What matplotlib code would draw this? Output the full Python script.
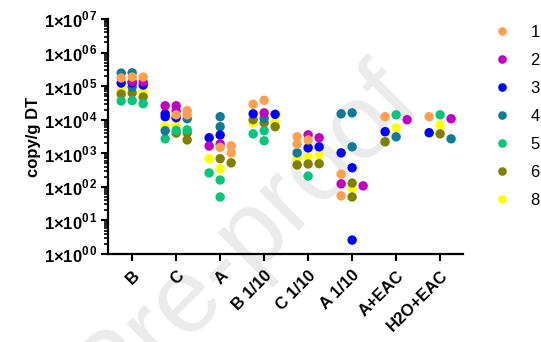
import numpy as np
import matplotlib
matplotlib.use("Agg")
import matplotlib.pyplot as plt
from matplotlib.lines import Line2D
from matplotlib.transforms import ScaledTranslation

plt.rcParams['font.family'] = ['Liberation Sans', 'DejaVu Sans']
plt.rcParams['mathtext.fontset'] = 'custom'
plt.rcParams['mathtext.rm'] = 'Liberation Sans:bold'
plt.rcParams['mathtext.bf'] = 'Liberation Sans:bold'

groups = ["B", "C", "A", "B 1/10", "C 1/10", "A 1/10", "A+EAC", "H2O+EAC"]
names = ["1", "2", "3", "4", "5", "6", "8"]
colors = ["#FFA050", "#C000C0", "#0000FF", "#117A96", "#0AC47E", "#808000", "#FFFF00"]

# values per group for each series (copy/g DT)
s1 = [[1.87e5, 1.87e5, 1.75e5], [1.4e4, 1.4e4, 1.86e4], [1.03e3, 1.67e3, 1.5e3],
      [3.8e4, 2.9e4], [3.1e3, 2.5e3, 1.9e3], [2.4e2, 54], [1.23e4], [1.23e4]]
s2 = [[1.38e5, 1.33e5], [2.6e4, 2.6e4, 1.8e4], [1.65e3, 1.9e3],
      [1.6e4], [3.55e3, 2.9e3], [1.07e2, 1.23e2], [1.0e4], [1.07e4]]
s3 = [[1.24e5, 1.08e5, 1.24e5], [1.23e4, 1.15e4, 1.5e4], [3.5e3, 2.9e3],
      [1.5e4, 1.45e4], [1.56e3, 1.45e3], [1.03e3, 3.7e2, 2.6], [4.4e3], [4.1e3]]
s4 = [[2.5e5, 2.45e5, 9.4e4], [1.07e4, 4.7e3], [1.23e4, 6.2e3],
      [1.1e4], [1.03e3], [1.6e4, 1.5e4, 1.56e3], [3.1e3], [2.7e3]]
s5 = [[3.7e4, 3.0e4, 3.6e4], [5.0e3, 4.8e3, 2.7e3], [2.6e2, 1.6e2, 50],
      [4.7e3, 3.8e3, 2.35e3], [2.1e2], [], [1.4e4], [1.4e4]]
s6 = [[5.8e4, 4.75e4, 6.25e4], [4.1e3, 2.5e3, 4.0e3], [6.9e2, 5.2e2],
      [1.0e4, 6.2e3, 8.1e3], [4.9e2, 4.8e2, 4.5e2], [1.3e2, 50], [2.2e3], [3.8e3]]
s8 = [[6.7e4, 7.2e4], [6.6e3, 6.2e3], [6.9e2, 3.45e2],
      [8.1e3, 8.5e3], [7.9e2, 9.1e2, 6.9e2], [93], [5.7e3], [7.0e3]]
series = [s1, s2, s3, s4, s5, s6, s8]

fig = plt.figure(figsize=(5.41, 3.42), dpi=100)
ax = fig.add_axes([0.1996, 0.2573, 0.8558 - 0.1996, 0.9444 - 0.2573])
ax.set_facecolor("none")

# watermark
fig.text(0.68, 0.845, "Journal Pre-proof", rotation=45, fontsize=76,
         color="#ebebeb", ha="right", va="top", rotation_mode="anchor", zorder=-5)

# simple swarm: three slots per group, filled from the top down
slots = [0.0, -0.25, 0.25]
gap = 0.24
xs = [[[] for g in groups] for s in series]
for gi in range(len(groups)):
    pts = []
    for si, s in enumerate(series):
        for k, v in enumerate(s[gi]):
            pts.append((np.log10(v), si, k))
    pts.sort(key=lambda p: -p[0])
    placed = {0: [], 1: [], 2: []}
    for lv, si, k in pts:
        best, bestd = 0, -1
        for j in range(3):
            d = min([abs(lv - q) for q in placed[j]], default=9)
            if d >= gap:
                best = j
                break
            if d > bestd:
                best, bestd = j, d
        placed[best].append(lv)
        xs[si][gi].append((k, gi + slots[best]))

for si in reversed(range(len(series))):
    px, py = [], []
    for gi in range(len(groups)):
        for k, x in sorted(xs[si][gi]):
            px.append(x)
            py.append(series[si][gi][k])
    ax.scatter(px, py, s=46, color=colors[si], edgecolors="none", zorder=3 + (7 - si))

ax.set_yscale("log")
ax.set_ylim(1, 1e7)
ax.set_xlim(-0.55, 7.52)
ax.set_yticks([10.0 ** i for i in range(8)])
ax.set_yticklabels([r"$1{\times}10^{0\,%d}$" % i for i in range(8)], fontsize=12)
ax.set_xticks(range(len(groups)))
ax.set_xticklabels(groups, rotation=45, ha="right", rotation_mode="anchor",
                   fontsize=12, fontweight="bold")
shift = ScaledTranslation(-5 / 72, -3 / 72, fig.dpi_scale_trans)
for lab in ax.get_xticklabels():
    lab.set_transform(lab.get_transform() + shift)
ax.set_ylabel("copy/g DT", fontsize=12, fontweight="bold", labelpad=2)

for sp in ["top", "right"]:
    ax.spines[sp].set_visible(False)
for sp in ["left", "bottom"]:
    ax.spines[sp].set_linewidth(1.6)
ax.tick_params(axis="both", which="major", length=5, width=1.5, direction="out")
ax.tick_params(axis="y", which="minor", length=3, width=1.2)
ax.tick_params(axis="y", which="major", pad=2)
ax.tick_params(axis="x", pad=5)

handles = [Line2D([], [], marker="o", linestyle="none", markersize=6.2,
                  markerfacecolor=c, markeredgecolor="none") for c in colors]
fig.legend(handles, names, loc="upper left", bbox_to_anchor=(0.885, 0.97),
           frameon=False, fontsize=12, labelspacing=0.78, handletextpad=1.2,
           handlelength=1.0)

fig.savefig("out.png", dpi=100)
